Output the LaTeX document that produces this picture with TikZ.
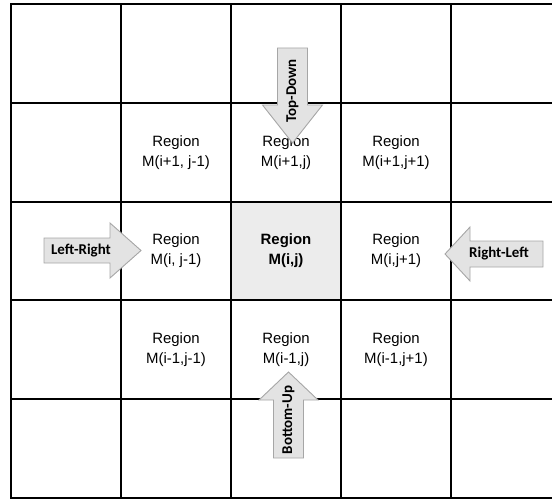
\documentclass[tikz,border=0pt]{standalone}
\usepackage{fontspec}
\setmainfont{Liberation Sans}
\newfontfamily\labelfont{Carlito}
\usetikzlibrary{calc}

\tikzset{
  cell/.style={font=\fontsize{15}{20}\selectfont, align=center},
  arrowshape/.style={fill=gray!22, draw=gray!70, line width=0.9bp, line join=miter},
  arrowlabel/.style={font=\labelfont\bfseries\fontsize{15}{15}\selectfont, inner sep=0pt},
}

\begin{document}
\begin{tikzpicture}[x=1bp, y=-1bp]
  \useasboundingbox (0,0) rectangle (552,500);
  % centre region
  \fill[gray!15] (231,201.6) rectangle (341,300.4);
  % grid (last column runs off the page)
  \draw[line width=2bp] (11,4) rectangle (561,498);
  \foreach \i in {1,...,4}
    \draw[line width=2bp] (11+110*\i,4) -- (11+110*\i,498);
  \foreach \j in {1,...,4}
    \draw[line width=2bp] (11,4+98.8*\j) -- (561,4+98.8*\j);

  % regions
  \node[cell] (up-left) at (176,152.2) {Region\\M(i+1, j-1)};
  \node[cell] (up) at (286,152.2) {Region\\M(i+1,j)};
  \node[cell] (up-right) at (396,152.2) {Region\\M(i+1,j+1)};
  \node[cell] (left) at (176,251) {Region\\M(i, j-1)};
  \node[cell, font=\bfseries\fontsize{15}{20}\selectfont] (centre) at (286,251) {Region\\M(i,j)};
  \node[cell] (right) at (396,251) {Region\\M(i,j+1)};
  \node[cell] (down-left) at (176,349.8) {Region\\M(i-1,j-1)};
  \node[cell] (down) at (286,349.8) {Region\\M(i-1,j)};
  \node[cell] (down-right) at (396,349.8) {Region\\M(i-1,j+1)};

  % scan arrows
  \draw[arrowshape] (44,238) -- (110,238) -- (110,223) -- (141,250.5)
    -- (110,278) -- (110,263) -- (44,263) -- cycle;
  \node[arrowlabel] (lr) at (81,250.5) {Left-Right};
  \draw[arrowshape] (543,241) -- (470,241) -- (470,227) -- (445,254)
    -- (470,281) -- (470,267) -- (543,267) -- cycle;
  \node[arrowlabel] (rl) at (499,254) {Right-Left};
  \draw[arrowshape] (277.5,48) -- (277.5,105) -- (262.5,105) -- (292.5,143)
    -- (322.5,105) -- (307.5,105) -- (307.5,48) -- cycle;
  \node[arrowlabel, rotate=90] (td) at (292.5,91) {Top-Down};
  \draw[arrowshape] (273.5,458) -- (273.5,400) -- (259,400) -- (288.5,372)
    -- (318,400) -- (303.5,400) -- (303.5,458) -- cycle;
  \node[arrowlabel, rotate=90] (bu) at (288.5,420) {Bottom-Up};
\end{tikzpicture}
\end{document}
